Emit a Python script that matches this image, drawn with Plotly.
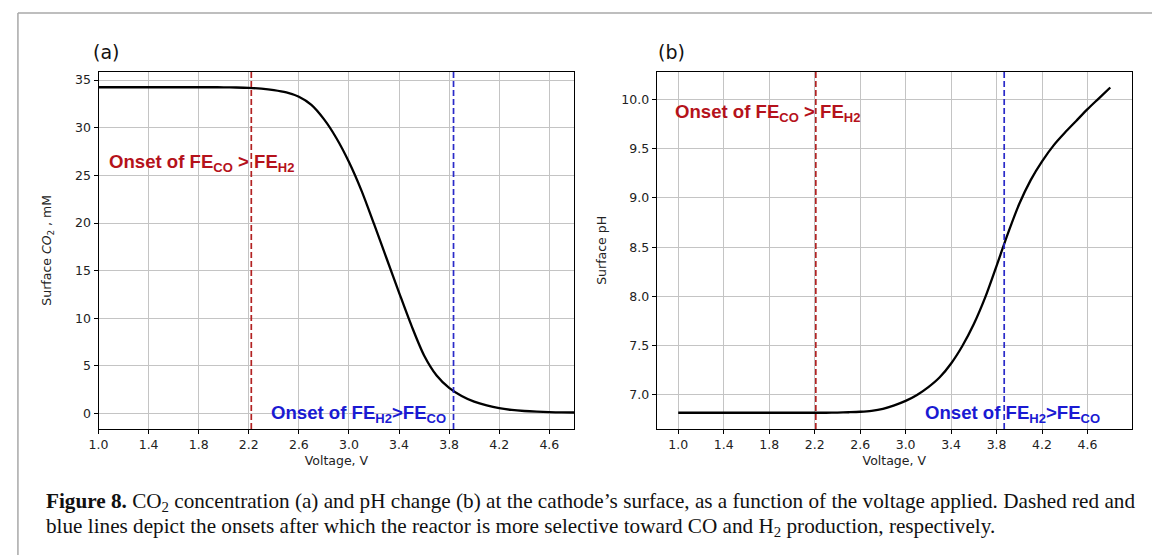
import plotly.graph_objects as go

# ---------------- data ----------------
voltage = [1.0, 1.1, 1.2, 1.3, 1.4, 1.5, 1.6, 1.7, 1.8, 1.9, 2.0, 2.1, 2.2, 2.3, 2.4, 2.5,
           2.6, 2.7, 2.8, 2.9, 3.0, 3.1, 3.2, 3.3, 3.4, 3.5, 3.6, 3.7, 3.8, 3.9, 4.0,
           4.1, 4.2, 4.3, 4.4, 4.5, 4.6, 4.7, 4.8]
surface_co2 = [34.25, 34.25, 34.25, 34.25, 34.25, 34.25, 34.25, 34.25, 34.25, 34.25, 34.24,
               34.22, 34.18, 34.1, 33.95, 33.7, 33.25, 32.4, 30.9, 28.9, 26.4, 23.4, 19.9,
               16.3, 12.7, 9.2, 6.1, 4.0, 2.7, 1.85, 1.25, 0.85, 0.56, 0.38, 0.27, 0.2,
               0.15, 0.12, 0.11]
surface_ph = [6.82, 6.82, 6.82, 6.82, 6.82, 6.82, 6.82, 6.82, 6.82, 6.82, 6.82, 6.82, 6.82,
              6.82, 6.822, 6.825, 6.83, 6.84, 6.86, 6.895, 6.94, 7.0, 7.08, 7.18, 7.32,
              7.5, 7.72, 7.99, 8.31, 8.64, 8.94, 9.18, 9.37, 9.53, 9.66, 9.78, 9.9, 10.01,
              10.12]

onset_co_a = 2.22
onset_h2_a = 3.835
onset_co_b = 2.21
onset_h2_b = 3.867

x_ticks = [1.0, 1.4, 1.8, 2.2, 2.6, 3.0, 3.4, 3.8, 4.2, 4.6]
co2_ticks = [0, 5, 10, 15, 20, 25, 30, 35]
ph_ticks = [7.0, 7.5, 8.0, 8.5, 9.0, 9.5, 10.0]

label_co = "<b>Onset of FE<sub>CO</sub> > FE<sub>H2</sub></b>"
label_h2 = "<b>Onset of FE<sub>H2</sub>>FE<sub>CO</sub></b>"
caption_1 = ("<b>Figure 8.</b> CO<sub>2</sub> concentration (a) and pH change (b) at the cathode’s "
             "surface, as a function of the voltage applied. Dashed red and")
caption_2 = ("blue lines depict the onsets after which the reactor is more selective toward CO "
             "and H<sub>2</sub> production, respectively.")

# ---------------- style ----------------
W, H = 1152, 555
RED = "#b5121b"
BLUE = "#1a1ad2"
RED_LINE = "#b22222"
BLUE_LINE = "#2a2ac8"
GRID = "#c4c4c4"
TICKFONT = dict(family="DejaVu Sans", size=12.5, color="#222222")
TITLEFONT = dict(family="DejaVu Sans", size=12.5, color="#222222")

def px_x(p):
    return p / W

def px_y(p):
    return 1 - p / H

fig = go.Figure()

fig.add_trace(go.Scatter(x=voltage, y=surface_co2, mode="lines",
                         line=dict(color="black", width=2.3, shape="spline", smoothing=0.8),
                         xaxis="x", yaxis="y", showlegend=False, hoverinfo="skip"))
fig.add_trace(go.Scatter(x=voltage, y=surface_ph, mode="lines",
                         line=dict(color="black", width=2.3, shape="spline", smoothing=0.8),
                         xaxis="x2", yaxis="y2", showlegend=False, hoverinfo="skip"))

axis_common = dict(showline=True, linecolor="black", linewidth=1, mirror=True,
                   ticks="outside", ticklen=4, tickwidth=1, tickcolor="black",
                   showgrid=True, gridcolor=GRID, gridwidth=1, zeroline=False,
                   tickfont=TICKFONT)

ydom = [px_y(429), px_y(71.7)]
fig.update_layout(
    width=W, height=H,
    margin=dict(l=0, r=0, t=0, b=0),
    paper_bgcolor="white", plot_bgcolor="white",
    xaxis=dict(domain=[px_x(89.3), px_x(569.3)], range=[1.0, 4.8], anchor="y",
               tickvals=x_ticks, tickformat=".1f",
               title=dict(text="Voltage, V", font=TITLEFONT, standoff=5),
               **axis_common),
    yaxis=dict(domain=ydom, range=[-1.62, 35.88], anchor="x",
               tickvals=co2_ticks,
               title=dict(text="Surface <i>CO</i><sub>2</sub> , mM", font=TITLEFONT, standoff=20),
               **axis_common),
    xaxis2=dict(domain=[px_x(652.3), px_x(1131.7)], range=[0.81, 4.99], anchor="y2",
                tickvals=x_ticks, tickformat=".1f",
                title=dict(text="Voltage, V", font=TITLEFONT, standoff=5),
                **axis_common),
    yaxis2=dict(domain=ydom, range=[6.655, 10.28], anchor="x2",
                tickvals=ph_ticks, tickformat=".1f",
                title=dict(text="Surface pH", font=TITLEFONT, standoff=11),
                **axis_common),
)

# onset dashed lines
for xref, yref, v, col in [("x", "y domain", onset_co_a, RED_LINE), ("x", "y domain", onset_h2_a, BLUE_LINE),
                           ("x2", "y2 domain", onset_co_b, RED_LINE), ("x2", "y2 domain", onset_h2_b, BLUE_LINE)]:
    fig.add_shape(type="line", xref=xref, yref=yref, x0=v, x1=v, y0=0, y1=1,
                  line=dict(color=col, width=1.7, dash="6px,3px"))

# onset labels
TXT = dict(family="Liberation Sans", size=18.6)
fig.add_annotation(x=1.064, y=26.26, xref="x", yref="y", text=label_co, showarrow=False,
                   xanchor="left", yanchor="middle", font=dict(color=RED, **TXT))
fig.add_annotation(x=2.363, y=0.0, xref="x", yref="y", text=label_h2, showarrow=False,
                   xanchor="left", yanchor="middle", font=dict(color=BLUE, **TXT))
fig.add_annotation(x=0.956, y=9.86, xref="x2", yref="y2", text=label_co, showarrow=False,
                   xanchor="left", yanchor="middle", font=dict(color=RED, **TXT))
fig.add_annotation(x=3.155, y=6.81, xref="x2", yref="y2", text=label_h2, showarrow=False,
                   xanchor="left", yanchor="middle", font=dict(color=BLUE, **TXT))

# panel letters
PANEL = dict(family="DejaVu Sans", size=19, color="#111")
fig.add_annotation(x=px_x(82), y=px_y(52), xref="paper", yref="paper", text="(a)",
                   showarrow=False, xanchor="left", yanchor="middle", font=PANEL)
fig.add_annotation(x=px_x(652), y=px_y(52), xref="paper", yref="paper", text="(b)",
                   showarrow=False, xanchor="left", yanchor="middle", font=PANEL)

# caption
CAP = dict(family="Liberation Serif", size=21.2, color="#111")
fig.add_annotation(x=px_x(34), y=px_y(502), xref="paper", yref="paper", text=caption_1,
                   showarrow=False, xanchor="left", yanchor="middle", font=CAP)
fig.add_annotation(x=px_x(34), y=px_y(527), xref="paper", yref="paper", text=caption_2,
                   showarrow=False, xanchor="left", yanchor="middle", font=CAP)

# page frame
fig.add_shape(type="line", xref="paper", yref="paper", x0=px_x(8), x1=1, y0=px_y(13), y1=px_y(13),
              line=dict(color="#a8a8a8", width=1.5))
fig.add_shape(type="line", xref="paper", yref="paper", x0=px_x(8), x1=px_x(8), y0=px_y(13), y1=0,
              line=dict(color="#a8a8a8", width=1.5))

fig.write_html("out.html", config={"displayModeBar": False},
               post_script="document.body.style.margin='0';document.body.style.overflow='hidden';")
